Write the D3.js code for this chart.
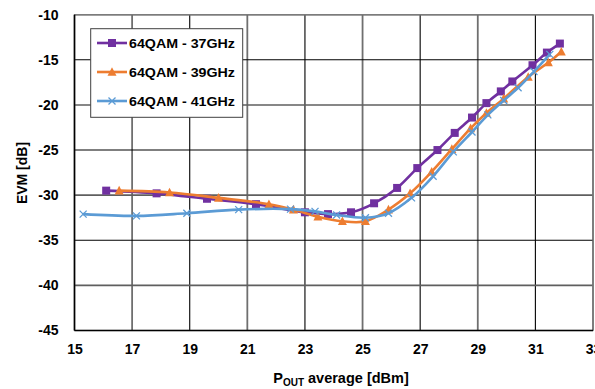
<!DOCTYPE html>
<html><head><meta charset="utf-8">
<script src="https://cdn.jsdelivr.net/npm/d3@7"></script>
<style>html,body{margin:0;padding:0;background:#fff;overflow:hidden}
text{font-family:'Liberation Sans', Arial, sans-serif;font-weight:700}</style>
</head><body>
<svg id="c" width="595" height="389"></svg>
<script>
const xTicks = [15,17,19,21,23,25,27,29,31,33];
const yTicks = [-10,-15,-20,-25,-30,-35,-40,-45];
const seriesNames = ["64QAM - 37GHz","64QAM - 39GHz","64QAM - 41GHz"];
const seriesColors = ["#7030A0","#ED7D31","#5B9BD5"];
const s37x = [16.1,17.85,19.6,21.3,23.0,23.8,24.6,25.4,26.2,26.9,27.6,28.2,28.8,29.3,29.8,30.2,30.9,31.4,31.85];
const s37y = [-29.5,-29.8,-30.4,-31.0,-31.9,-32.1,-31.9,-30.9,-29.2,-27.0,-25.0,-23.1,-21.4,-19.8,-18.5,-17.4,-15.6,-14.2,-13.2];
const s39x = [16.55,18.3,20.0,21.75,22.6,23.45,24.3,25.1,25.9,26.65,27.4,28.1,28.75,29.3,29.9,30.75,31.45,31.9];
const s39y = [-29.5,-29.7,-30.3,-31.0,-31.6,-32.4,-32.9,-32.9,-31.6,-29.8,-27.4,-24.9,-22.6,-20.9,-19.3,-16.9,-15.3,-14.1];
const s41x = [15.3,17.15,18.9,20.7,22.5,23.35,24.1,25.1,25.9,26.7,27.45,28.15,28.8,29.35,29.9,30.4,30.95,31.5];
const s41y = [-32.1,-32.3,-32.0,-31.6,-31.55,-31.8,-32.2,-32.5,-32.0,-30.3,-27.9,-25.2,-23.0,-21.1,-19.5,-18.1,-16.3,-14.4];

const series = [
  {name:seriesNames[0], color:seriesColors[0], marker:"square", pts:s37x.map((x,i)=>[x,s37y[i]])},
  {name:seriesNames[1], color:seriesColors[1], marker:"triangle", pts:s39x.map((x,i)=>[x,s39y[i]])},
  {name:seriesNames[2], color:seriesColors[2], marker:"x", pts:s41x.map((x,i)=>[x,s41y[i]])}
];

const svg = d3.select("#c");
const L = 74.5, R = 593, T = 14.7, B = 330.5;
const x = d3.scaleLinear().domain([15,33]).range([L,R]);
const y = d3.scaleLinear().domain([-45,-10]).range([B,T]);

// grid
const g = svg.append("g");
g.selectAll("line.v").data(xTicks).enter().append("line")
  .attr("x1",d=>x(d)).attr("x2",d=>x(d)).attr("y1",T).attr("y2",B)
  .attr("stroke",(d,i)=>i%2? "#6f6f6f":"#000").attr("stroke-width",(d,i)=>i%2?1.8:1.1);
g.selectAll("line.h").data(yTicks).enter().append("line")
  .attr("x1",L).attr("x2",R).attr("y1",d=>y(d)).attr("y2",d=>y(d))
  .attr("stroke",(d,i)=>i%2? "#000":"#5f5f5f").attr("stroke-width",(d,i)=>i%2?1.1:1.6);
// frame
svg.append("rect").attr("x",L).attr("y",T).attr("width",R-L).attr("height",B-T)
  .attr("fill","none").attr("stroke","#7f7f7f").attr("stroke-width",1.2);
svg.append("line").attr("x1",L).attr("x2",L).attr("y1",T).attr("y2",B).attr("stroke","#000").attr("stroke-width",1.6);
svg.append("line").attr("x1",L).attr("x2",R).attr("y1",B).attr("y2",B).attr("stroke","#000").attr("stroke-width",1.6);

// axes labels via d3 axes
const fmt = d => String(d);
const xAxis = d3.axisBottom(x).tickValues(xTicks).tickSize(0).tickPadding(14).tickFormat(fmt);
const xa = svg.append("g").attr("transform",`translate(0,${B})`).call(xAxis);
xa.select(".domain").remove();
xa.selectAll("text").attr("font-size","14px").attr("fill","#000");
const yAxis = d3.axisLeft(y).tickValues(yTicks).tickSize(0).tickPadding(16).tickFormat(fmt);
const ya = svg.append("g").attr("transform",`translate(${L},0)`).call(yAxis);
ya.select(".domain").remove();
ya.selectAll("text").attr("font-size","14px").attr("fill","#000");
xa.attr("font-family",null); ya.attr("font-family",null);

// axis titles
const xt = svg.append("text").attr("x",341).attr("y",383).attr("text-anchor","middle")
  .attr("font-size","14.5px");
xt.append("tspan").text("P");
xt.append("tspan").attr("font-size","10px").attr("dy",3).text("OUT");
xt.append("tspan").attr("dy",-3).text(" average [dBm]");
svg.append("text").attr("transform","translate(27,173) rotate(-90)").attr("text-anchor","middle")
  .attr("font-size","14px").text("EVM [dB]");

// lines
const line = d3.line().x(d=>x(d[0])).y(d=>y(d[1])).curve(d3.curveCatmullRom.alpha(0.5));

function drawMarker(sel, type, color, cx, cy, s){
  if(type==="square"){
    sel.append("rect").attr("x",cx-s/2).attr("y",cy-s/2).attr("width",s).attr("height",s).attr("fill",color);
  } else if(type==="triangle"){
    const h=s*0.95;
    sel.append("path").attr("d",`M${cx},${cy-h/2-1}L${cx+s/2+0.5},${cy+h/2}L${cx-s/2-0.5},${cy+h/2}Z`).attr("fill",color);
  } else {
    const r=s/2;
    sel.append("path").attr("d",`M${cx-r},${cy-r}L${cx+r},${cy+r}M${cx-r},${cy+r}L${cx+r},${cy-r}`)
      .attr("stroke",color).attr("stroke-width",1.3).attr("fill","none");
  }
}

series.forEach(s=>{
  svg.append("path").datum(s.pts).attr("d",line).attr("fill","none")
    .attr("stroke",s.color).attr("stroke-width",2.6).attr("stroke-linejoin","round");
  const mg = svg.append("g");
  s.pts.forEach(p=>drawMarker(mg, s.marker, s.color, x(p[0]), y(p[1]), s.marker==="x"?7:8));
});

// legend
const lg = svg.append("g");
lg.append("rect").attr("x",90.7).attr("y",28.7).attr("width",152).attr("height",88.6)
  .attr("fill","#fff").attr("stroke","#404040").attr("stroke-width",1);
series.forEach((s,i)=>{
  const cy = 43 + i*29;
  lg.append("line").attr("x1",97).attr("x2",127).attr("y1",cy).attr("y2",cy)
    .attr("stroke",s.color).attr("stroke-width",2.6);
  drawMarker(lg, s.marker, s.color, 112, cy, s.marker==="x"?7:8);
  lg.append("text").attr("x",129).attr("y",cy+4.5)
    .attr("font-size","13px").attr("fill","#000").attr("textLength",106).attr("lengthAdjust","spacingAndGlyphs").text(s.name);
});
</script>
</body></html>
